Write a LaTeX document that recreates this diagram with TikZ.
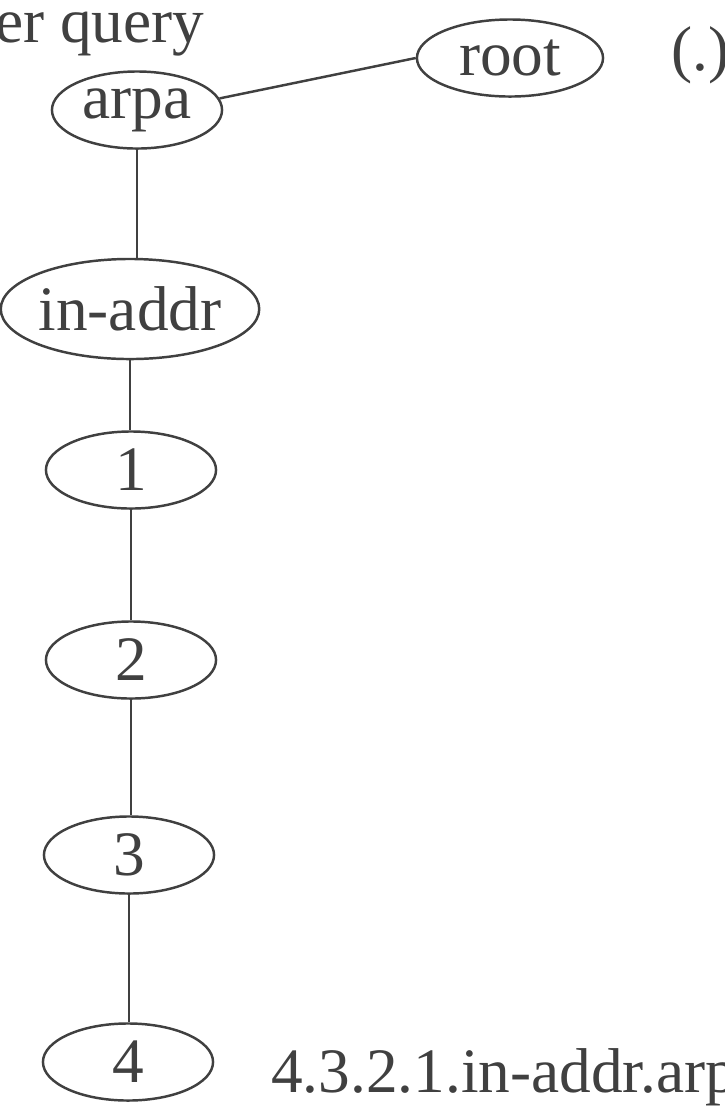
\documentclass[tikz,border=0pt]{standalone}
\usepackage{fontspec}
\setmainfont{Liberation Serif}
\usetikzlibrary{shapes.geometric}
\definecolor{ink}{HTML}{404040}
\begin{document}
\begin{tikzpicture}[x=0.01cm,y=-0.01cm,line width=0.7pt,draw=ink,text=ink,
  font=\fontsize{18}{21}\selectfont,
  zone/.style={ellipse,draw=ink,inner sep=0pt,minimum width=1.7cm,minimum height=0.77cm},
  tag/.style={anchor=base west,inner sep=0pt}]
\useasboundingbox (0,0) rectangle (725,1108);
\node[zone,minimum width=1.86cm] (root) at (510,58) {root};
\node[tag] (dot) at (670,70) {(.)};
\node[tag] (query) at (-6,42) {er query};
\node[zone] (arpa) at (137,110) {arpa};
\draw (root.west) -- (arpa.8);
\node[zone,minimum width=2.39cm,minimum height=1cm] (inaddr) at (130,309) {in-addr};
\draw (arpa) -- (arpa |- inaddr.north);
\node[zone] (one) at (131,470) {1};
\draw (inaddr) -- (inaddr |- one.north);
\node[zone] (two) at (131,660) {2};
\draw (one) -- (one |- two.north);
\node[zone] (three) at (129,855) {3};
\draw (two) -- (two |- three.north);
\node[zone] (four) at (128,1062) {4};
\draw (three) -- (three |- four.north);
\node[tag] (name) at (270,1092) {4.3.2.1.in-addr.arp};
\end{tikzpicture}
\end{document}
